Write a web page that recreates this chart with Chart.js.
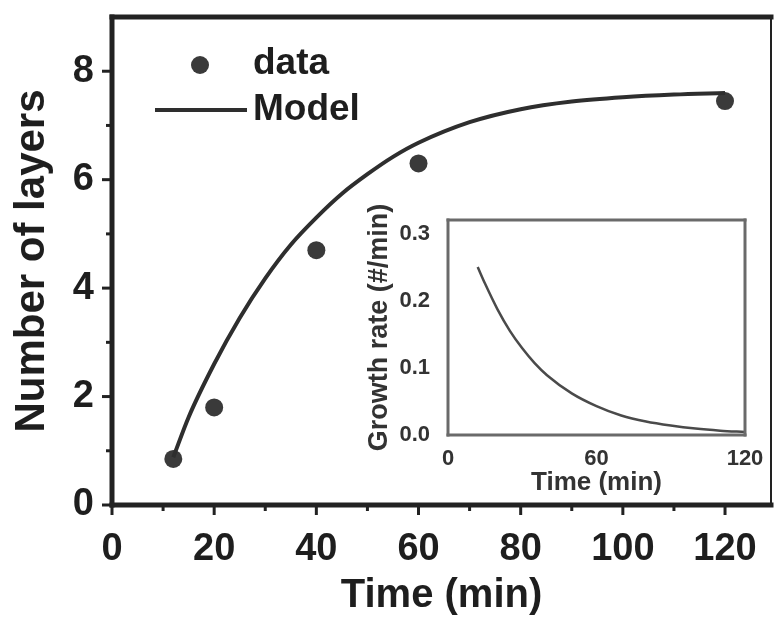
<!DOCTYPE html>
<html>
<head>
<meta charset="utf-8">
<script src="https://cdn.jsdelivr.net/npm/chart.js@4.4.1/dist/chart.umd.min.js"></script>
<style>
  html, body { margin: 0; padding: 0; background: #fff; }
  #wrap { position: relative; width: 780px; height: 620px; }
  #mainChart { position: absolute; left: 0; top: 0; }
  #insetChart { position: absolute; left: 355px; top: 195px; }
</style>
</head>
<body>
<div id="wrap">
  <canvas id="mainChart" width="780" height="620"></canvas>
  <canvas id="insetChart" width="420" height="315"></canvas>
</div>
<script>
// measured layers
const dataTime = [12, 20, 40, 60, 120];
const dataLayers = [0.85, 1.8, 4.7, 6.3, 7.45];

// model curve
const modelTime = [12, 15, 20, 25, 30, 35, 40, 45, 50, 55, 60, 70, 80, 90, 100, 110, 120];
const modelLayers = [0.88, 1.62, 2.6, 3.45, 4.18, 4.8, 5.3, 5.74, 6.1, 6.42, 6.68, 7.06, 7.3, 7.44, 7.52, 7.57, 7.6];

// inset: growth rate
const insetTime = [12, 15, 20, 25, 30, 35, 40, 50, 60, 70, 80, 90, 100, 110, 120];
const insetRate = [0.25, 0.225, 0.187, 0.155, 0.129, 0.107, 0.089, 0.062, 0.043, 0.029, 0.02, 0.014, 0.0095, 0.0065, 0.0045];

// tick values
const mainXTicks = [0, 10, 20, 30, 40, 50, 60, 70, 80, 90, 100, 110, 120];
const mainYTicks = [0, 1, 2, 3, 4, 5, 6, 7, 8];
const insetXTicks = [0, 60, 120];
const insetYTicks = [0, 0.1, 0.2, 0.3];

const FONT = '"Liberation Sans", Arial, sans-serif';
const INK = '#1e1e1e';

const toPoints = (xs, ys) => xs.map((x, i) => ({ x: x, y: ys[i] }));

// keep label overhang from shrinking the plot area
const noPadding = s => {
    s.paddingTop = 0;
    s.paddingBottom = 0;
    s.paddingLeft = 0;
    s.paddingRight = 0;
};

// box around the plot area and tick marks (major = labelled)
const framePlugin = {
    id: 'frame',
    afterDraw(chart, args, opts) {
        const { ctx, chartArea: a, scales: { x, y } } = chart;
        const line = (x1, y1, x2, y2) => {
            ctx.beginPath();
            ctx.moveTo(x1, y1);
            ctx.lineTo(x2, y2);
            ctx.stroke();
        };
        ctx.save();
        ctx.strokeStyle = opts.color;
        ctx.lineCap = 'butt';

        if (opts.major > 0) {
            ctx.lineWidth = opts.tickWidth;
            x.ticks.forEach(t => {
                const px = x.getPixelForValue(t.value);
                const len = t.label !== '' ? opts.major : opts.minor;
                line(px, a.bottom, px, a.bottom + len);
            });
            y.ticks.forEach(t => {
                const py = y.getPixelForValue(t.value);
                const len = t.label !== '' ? opts.major : opts.minor;
                line(a.left, py, a.left - len, py);
            });
        }

        const w = opts.widths;
        ctx.lineCap = 'square';
        ctx.lineWidth = w.top;
        line(a.left, a.top, a.right, a.top);
        ctx.lineWidth = w.right;
        line(a.right, a.top, a.right, a.bottom);
        ctx.lineWidth = w.bottom;
        line(a.left, a.bottom, a.right, a.bottom);
        ctx.lineWidth = w.left;
        line(a.left, a.top, a.left, a.bottom);
        ctx.restore();
    }
};

// legend sitting inside the plot, top left
const legendPlugin = {
    id: 'innerLegend',
    afterDatasetsDraw(chart) {
        const ctx = chart.ctx;
        const pts = chart.data.datasets[1];
        const mdl = chart.data.datasets[0];
        ctx.save();
        ctx.fillStyle = pts.backgroundColor;
        ctx.beginPath();
        ctx.arc(200, 65, pts.pointRadius, 0, Math.PI * 2);
        ctx.fill();
        ctx.strokeStyle = mdl.borderColor;
        ctx.lineWidth = mdl.borderWidth;
        ctx.beginPath();
        ctx.moveTo(155, 110);
        ctx.lineTo(247, 110);
        ctx.stroke();
        ctx.fillStyle = INK;
        ctx.font = 'bold 37px ' + FONT;
        ctx.textBaseline = 'middle';
        ctx.fillText(pts.label, 253, 64);
        ctx.fillText(mdl.label, 253, 110);
        ctx.restore();
    }
};

const mainChart = new Chart(document.getElementById('mainChart'), {
    type: 'scatter',
    data: {
        datasets: [{
            label: 'Model',
            data: toPoints(modelTime, modelLayers),
            showLine: true,
            borderColor: '#2e2e2e',
            borderWidth: 4,
            pointRadius: 0,
            tension: 0.4,
            cubicInterpolationMode: 'monotone'
        }, {
            label: 'data',
            data: toPoints(dataTime, dataLayers),
            backgroundColor: '#3a3a3a',
            borderWidth: 0,
            pointRadius: 9
        }]
    },
    options: {
        responsive: false,
        animation: false,
        layout: { padding: { top: 17, right: 2, left: 0, bottom: 0 } },
        plugins: {
            legend: { display: false },
            tooltip: { enabled: false },
            frame: { color: '#222', tickWidth: 3, major: 10, minor: 6,
                     widths: { top: 5, right: 2, bottom: 5, left: 5 } }
        },
        scales: {
            x: {
                type: 'linear', min: 0, max: 129,
                afterBuildTicks: s => { s.ticks = mainXTicks.map(v => ({ value: v })); },
                afterFit: s => { s.height = 115; noPadding(s); },
                grid: { display: false },
                border: { display: false },
                ticks: {
                    callback: v => (v % 20 === 0 ? String(v) : ''),
                    font: { family: FONT, size: 38, weight: 'bold' },
                    color: INK, padding: 14, maxRotation: 0, autoSkip: false
                },
                title: {
                    display: true, text: 'Time (min)', color: INK,
                    font: { family: FONT, size: 40, weight: 'bold' },
                    padding: { top: 0, bottom: 0 }
                }
            },
            y: {
                min: 0, max: 9,
                afterBuildTicks: s => { s.ticks = mainYTicks.map(v => ({ value: v })); },
                afterFit: s => { s.width = 112; noPadding(s); },
                grid: { display: false },
                border: { display: false },
                ticks: {
                    callback: v => (v % 2 === 0 ? String(v) : ''),
                    font: { family: FONT, size: 38, weight: 'bold' },
                    color: INK, padding: 10, autoSkip: false
                },
                title: {
                    display: true, text: 'Number of layers', color: INK,
                    font: { family: FONT, size: 42, weight: 'bold' },
                    padding: { top: 7, bottom: 0 }
                }
            }
        }
    },
    plugins: [framePlugin, legendPlugin]
});

const insetChart = new Chart(document.getElementById('insetChart'), {
    type: 'scatter',
    data: {
        datasets: [{
            label: 'Growth rate',
            data: toPoints(insetTime, insetRate),
            showLine: true,
            borderColor: '#4a4a4a',
            borderWidth: 2.5,
            pointRadius: 0,
            tension: 0.4,
            cubicInterpolationMode: 'monotone'
        }]
    },
    options: {
        responsive: false,
        animation: false,
        layout: { padding: { top: 25, right: 30, left: 0, bottom: 0 } },
        plugins: {
            legend: { display: false },
            tooltip: { enabled: false },
            frame: { color: '#6a6a6a', tickWidth: 2, major: 0, minor: 0,
                     widths: { top: 3, right: 3, bottom: 3, left: 3 } }
        },
        scales: {
            x: {
                type: 'linear', min: 0, max: 120,
                afterBuildTicks: s => { s.ticks = insetXTicks.map(v => ({ value: v })); },
                afterFit: s => { s.height = 75; noPadding(s); },
                grid: { display: false },
                border: { display: false },
                ticks: {
                    font: { family: FONT, size: 22, weight: 'bold' },
                    color: '#333', padding: 3, maxRotation: 0, autoSkip: false
                },
                title: {
                    display: true, text: 'Time (min)', color: '#333',
                    font: { family: FONT, size: 26, weight: 'bold' },
                    padding: { top: 0, bottom: 12 }
                }
            },
            y: {
                min: 0, max: 0.32,
                afterBuildTicks: s => { s.ticks = insetYTicks.map(v => ({ value: v })); },
                afterFit: s => { s.width = 93; noPadding(s); },
                grid: { display: false },
                border: { display: false },
                ticks: {
                    callback: v => v.toFixed(1),
                    font: { family: FONT, size: 22, weight: 'bold' },
                    color: '#333', padding: 10, autoSkip: false
                },
                title: {
                    display: true, text: 'Growth rate (#/min)', color: '#333',
                    font: { family: FONT, size: 27, weight: 'bold' },
                    padding: { top: 8, bottom: 0 }
                }
            }
        }
    },
    plugins: [framePlugin]
});
</script>
</body>
</html>
